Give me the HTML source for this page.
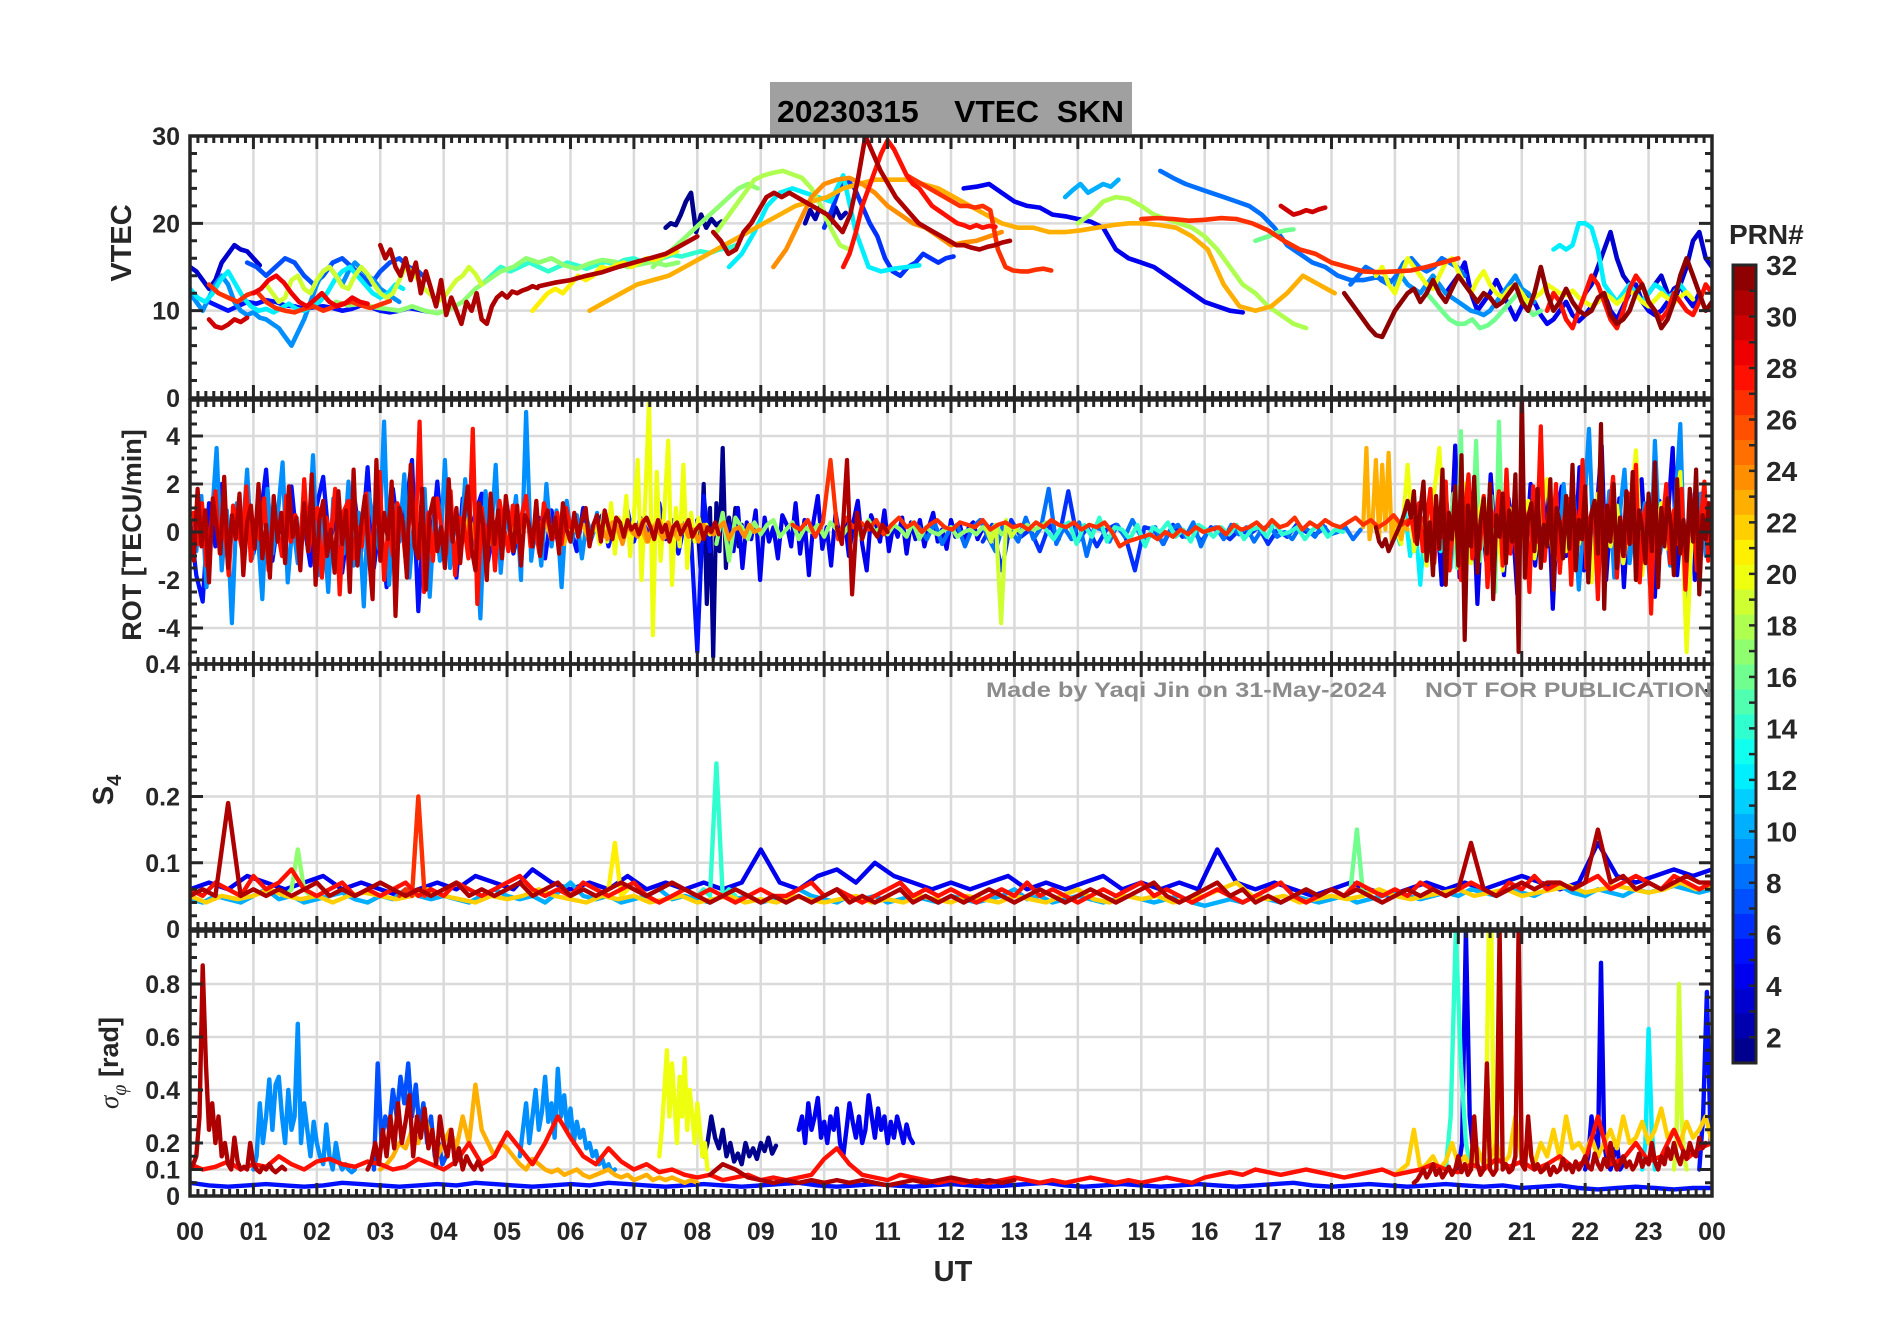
<!DOCTYPE html>
<html><head><meta charset="utf-8"><title>20230315 VTEC SKN</title>
<style>
html,body{margin:0;padding:0;background:#fff;}
svg{display:block;font-family:"Liberation Sans",Arial,sans-serif;}
.tk{font-weight:bold;font-size:25px;fill:#262626;}
.ax{font-weight:bold;fill:#262626;}
</style></head>
<body>
<svg id="chart" width="1902" height="1330" viewBox="0 0 1902 1330" xmlns="http://www.w3.org/2000/svg">
<rect x="0" y="0" width="1902" height="1330" fill="#fff"/>
<defs>
<clipPath id="c0"><rect x="190" y="136" width="1522" height="262"/></clipPath>
<clipPath id="c1"><rect x="190" y="400" width="1522" height="264"/></clipPath>
<clipPath id="c2"><rect x="190" y="664" width="1522" height="265"/></clipPath>
<clipPath id="c3"><rect x="190" y="931" width="1522" height="265"/></clipPath>
</defs>
<g id="grid"></g>
<g id="marks"></g>
<g id="frames"></g>
<g>
<rect x="770" y="82" width="362" height="52" fill="#a0a0a0"/>
<text x="777" y="122" font-size="31" font-weight="bold" fill="#000" textLength="347" lengthAdjust="spacingAndGlyphs" xml:space="preserve">20230315    VTEC  SKN</text>
</g>
<text class="ax" font-size="29" transform="translate(131,243) rotate(-90)" text-anchor="middle">VTEC</text>
<text class="ax" font-size="27" transform="translate(141,535) rotate(-90)" text-anchor="middle">ROT [TECU/min]</text>
<text class="ax" font-size="29" transform="translate(113,790) rotate(-90)" text-anchor="middle">S<tspan font-size="20" dy="8">4</tspan></text>
<text class="ax" font-size="27" transform="translate(118,1063) rotate(-90)" text-anchor="middle"><tspan font-family="Liberation Serif" font-style="italic" font-weight="normal">σ</tspan><tspan font-size="20" dy="8" font-family="Liberation Serif" font-style="italic" font-weight="normal">φ</tspan><tspan dy="-8"> [rad]</tspan></text>
<text class="ax" font-size="29" x="953" y="1281" text-anchor="middle">UT</text>
<g font-weight="bold" font-size="21" fill="#8c8c8c">
<text x="986" y="697" textLength="400" lengthAdjust="spacingAndGlyphs">Made by Yaqi Jin on 31-May-2024</text>
<text x="1425" y="697" textLength="287" lengthAdjust="spacingAndGlyphs">NOT FOR PUBLICATION</text>
</g>
<text class="ax" font-size="28" x="1729" y="244" fill="#000">PRN#</text>
<g id="cbar"></g>
</svg>
<script>
// ---------- data ----------
const hourLabels = ["00","01","02","03","04","05","06","07","08","09","10","11","12","13","14","15","16","17","18","19","20","21","22","23","00"];
const vtecTicks = [0,10,20,30];
const rotTicks = [-4,-2,0,2,4];
const s4Ticks = [0,0.1,0.2,0.4];
const s4TickLabels = ["0","0.1","0.2","0.4"];
const sigTicks = [0,0.1,0.2,0.4,0.6,0.8];
const cbarTicks = [2,4,6,8,10,12,14,16,18,20,22,24,26,28,30,32];

// VTEC series: PRN, start hour, step (h), values (TECU)
const vtecPrn = [3,5,9,7,12,27,30,29,19,17,31,31,31,28,27,18,17,23,24,12,10,6,2,1,4,8,30,16,18,27,20,4,32,28,3,12,16,9,8,14,21];
const vtecStart = [0,0.3,0,0.9,0,0.3,0.3,1.0,1.2,2.3,3.0,5.5,8.25,10.3,11.3,8.3,7.3,6.3,9.2,8.5,13.8,10.0,9.7,7.5,12.2,15.3,17.2,16.8,14.0,15.0,18.7,19.8,18.2,21.4,22.0,21.5,19.5,19.0,18.3,4.6,5.4];
const vtecStep = [0.1,0.15,0.1,0.15,0.12,0.15,0.1,0.12,0.1,0.2,0.08,0.25,0.12,0.1,0.12,0.15,0.15,0.25,0.2,0.2,0.12,0.12,0.08,0.08,0.2,0.2,0.1,0.12,0.2,0.25,0.1,0.1,0.1,0.1,0.1,0.1,0.12,0.1,0.12,0.15,0.12];
const vtecVals = [
[15,14.5,13.5,12.5,13.5,15.5,16.5,17.5,17,16.8,16,15.2],
[11,10.5,10,10.5,11,10.8,11.2,11,10.6,10.5,10.2,10.4,10.5,10.3,10,10.2,10.6,10.4,10,9.8,10,10.3,10.1,9.9],
[12,11,10,11.5,13,14,13,11,10,9.5,9.8,9.2,9,8.5,8,7,6,7.5,9,11,13,14.5,15,14,13,14.5,15.5,14.8,14,13.5,12.5,12,11.5,11],
[15.5,15,14,15,16,15.5,14,13,14,15.5,16,15,14,13,14.5,15.5,16,15,14.5,13.5],
[12.5,11.5,11,12,13.5,14.5,13,11.5,10.5,10,10.2,9.8,10.3,10.8,10.2,10,10.5,11,12,13.5,14.5,15,14,13,12,11.5,12,13,12.5],
[13,12,11.5,11,11.8,12.2,11,10.3,10,9.8,10.2,10.5,10,10.4,10.8,11,10.6,10.3,10.7,11.1],
[9,8.2,8,8.4,9,8.7,9.2],
[12,12.5,13.5,14,13.2,12,11,10.5,11.2,12,11,10.5,10.8,11.5,11,10.8],
[13,12,11,11.5,13.5,14,12.5,12,13.5,14.5,15,14,12.8,12.5,14,15,14.2,13,12,11.5,12,13.5,15,14.5,13.5,12.5,11.8,11,11.5,12.5,13.5,14,15,14.2,13],
[11,10.6,10.8,10.4,10.2,10,10.5,10,9.7,10.2,11,12.5,13.5,14.5,15,16,15.5,16,15.2,14.8,15.4,15.8,15.6,15,15.3,15.6,15.2,15.5],
[17.5,16,17,15,14,16,13.5,15.5,12,14.5,12.5,10.5,13.5,9.5,11.5,10,8.5,11,10,12,9,8.5,10.5,11.5,12,11.5,12.2,12,12.3,12.5,12.8,12.6],
[12.8,13.2,13.5,14,14.4,15,15.5,16,16.5,17.5,18.5],
[19,18,16.5,17,19,20,21.5,23,23.5,23,23.5,23,22.5,22,21.5,21,20,19,21,25,30,28,26,24.5,23,22,21,20,19.5,19,18.5,18,17.5,17.5,17.2,17,17.3,17.5,17.8,18],
[15,16.5,19,22,24,26,28,29.5,28.5,27,25.5,24.5,24,23,22,21.5,21,20.5,20,19.8,19.5,19.8,19.5,19.7,19.6],
[25.5,25,24.5,24,23.5,23,22.5,22,22,21.8,22,21.5,17,15,14.6,14.5,14.5,14.7,14.8,14.6],
[19,20.5,22,23.5,25,25.5,25.8,26,25.6,25.2,24,22,19.5,17.5,17],
[15,16,17,18,19,20,21,22,23,24,24.5,24],
[10,11,12,13,13.5,14,15,16,17,18,19,20,21,22,22.5,23,24,24.5,25,25,25,24.5,24,23,22,21,20,19.5,19.5,19,19,19.2,19.5,19.8,20,20,19.8,19.5,18.5,17,13,10.5,10,10.5,12,14,13,12],
[15,17,20,23,24.5,25,25.2,24.5,23.5,22,21,20,19.5,18.5,17.5,17.8,18,18.5,19],
[15,16.5,19,22,23.5,24,23.5,23,22.5,25.5,19,15,14.5,14.8,15,15.2],
[23,23.8,24.5,23.5,24,24.5,24.2,25],
[19.5,21.5,24,25,24,22,20,18.5,16,14.5,14,15,15.5,16.5,16,15.5,16,16.2],
[20,21.5,20.5,22,21,20,21.8,20.6,21.2],
[19.5,20,19.8,21,22.5,23.5,19,21,19.5,20.5,19.8,20.2],
[24,24.2,24.5,23.5,22.5,22,21.8,21,20.8,20.5,20.2,19.5,17,16,15.5,15,14,13,12,11,10.5,10,9.8],
[26,25.2,24.5,24,23.5,23,22.5,22,21,19.5,17.5,16.5,15.5,15,14,13.5,13.5,13.8,13.5],
[22,21.5,21,21.2,21.5,21.3,21.6,21.8],
[18,18.3,18.6,19,19.2,19.3],
[20,21,22.5,23,22.8,22,21,20.5,20,19.5,18.5,17,15,13,12,10.5,9.5,8.5,8],
[20.5,20.6,20.5,20.3,20.4,20.6,20.5,20,19.2,18,17,16.5,15.5,15,14.5,14.4,14.5,14.6,15,15.5,16],
[14,15,13,12,14,16,15,14,13,12.5,14,15.5,16,14.5,13,12,13.5,14.5,13,12,11.5,12.5,13,12,11,11.5,12,13,12.5,12,11.8,12.3,11.5,11,10.5,11,12,11.5,10.8,11.4,12.2,11.8,11,10.5,11.2,12,11.4,10.9,11.6,12.1,11.3],
[12,13,14,15.5,12,10,11,12,13.5,12,10.5,9,10.5,12,11,9.5,8.5,9,10,11,9.5,8.8,9.5,10.5,11,12,10,9,10.5,12,13,11,10,9.5,10,11,12.5,13,11.5,10.5,12],
[12,11,10,9,8,7.2,7,8.5,10,11,12,12.5,11,12,13.5,12,11,12.5,14,13,12,11,12,11.5,10.5,11,12,13,11,10,12,15,12,10,11,12.5,11,10,9.5,10,11.5,12,9.5,8.5,9,10,12,13,11,10,8,9,11,14,16,14,12,10,11,12,13,12,11],
[10,12,11,9,8,10,12,14,13,11,9,8,10,12.5,14,13,11,10,9,10,12,11,10,9.5,11,13,12,10.5,9,10,11.5,12,10],
[12,13,15,17,19,16,14,13,12,11,12,13,14,12,11,13,15,18,19,16,15,14,13,12,13.5,15,16,14.5,13,14,16,17],
[17,17.5,17,17.5,20,20,19.5,17,13,12,11,12,13,12,11,12,13,12.5,11.5,12,13,12],
[12,11,10,9,8.5,8.5,9,8,8.3,9,10,11,12,10.5,9.5,10],
[13,14,13,12.5,12,13,14,13,12,11.5,11,10.5,10,9.8,9.5,10,11,12,13,14,12.5,12,11],
[13,14,15,14.5,13.5,13,14,15.5,16,15,14.5,15,16,15.5,15,14],
[13,14,15,14.5,15,15.5,15,14.5,15,15.5,15.2,14.8,15.2,15.6,15.3,15.8,16,15.5,15.8,16,16.4,16.2,16.5,16.8,16.6,17,17.2,17.6],
[10,11,12,12.5,12,13,14,13.5,14,15,14.8,15.2,15.5,15,15.5,16,15.8,16.2,16.5,16.8]
];

// ROT series: PRN, start hour, step (h), values (TECU/min)
const rotPrn = [24,9,5,23,20,28,31,4,8,27,31,6,19,32,28,4,16,20,23,12,9,17,14,1];
const rotStart = [6.5,0.1,0,4.2,6.4,0.05,0,8.5,11.5,9.5,10.2,12.5,12.55,18.7,19.2,19.6,19.8,19.0,18.5,19.0,21.5,8.3,13.5,8.0];
const rotStep = [0.08,0.08,0.1,0.1,0.06,0.07,0.06,0.07,0.12,0.12,0.08,0.15,0.08,0.05,0.06,0.07,0.06,0.1,0.05,0.08,0.08,0.1,0.12,0.05];
const rotVals = [
[0.1,-0.3,0.4,0.2,-0.5,0.3,0.0,-0.2,0.5,-0.4,0.2,0.1,-0.3,0.4,-0.1,0.2,0.3,-0.2,0.1,-0.4,0.3,0.0,-0.1,0.2,0.4,-0.3,0.1,0.2,-0.2,0.3,0.0,0.1],
[-0.8,1.5,-2.3,0.4,3.5,-1.6,0.9,-3.8,1.2,-0.5,2.6,-1.1,0.3,-2.8,1.8,-0.9,0.6,2.9,-2.1,0.4,-1.3,1.0,-0.6,3.2,-1.8,0.5,-2.5,1.4,0.2,-0.9,2.1,-1.4,0.8,-3.1,1.6,0.3,-0.7,4.6,-2.2,1.1,-0.4,2.4,-1.9,0.7,-0.2,1.8,-2.7,0.9,-1.2,3.0,-1.5,0.6,-0.8,2.2,-1.0,0.4,-3.6,1.7,-0.5,2.8,-1.7,0.8,-0.3,1.5,-2.0,5.0,-1.2,0.6,-1.4,2.0,-0.6,0.9,-2.3,1.3,-0.4,0.7,-1.1,0.5,-0.2,0.8],
[0.5,-1.8,-2.9,1.2,-0.6,2.0,-1.1,0.8,-0.3,1.5,-0.9,0.4,2.6,-1.2,0.7,-0.5,1.9,-0.8,0.3,-1.4,1.1,2.3,-0.6,0.9,-1.7,0.4,1.3,-0.8,2.7,-1.5,0.6,-2.3,1.8,-0.4,0.9,3.0,-3.3,1.2,-0.7,2.1,-1.0,0.5,-1.9,1.4,-0.3,0.8,1.6,-1.2,0.4,-0.6,1.1,-0.9,0.3,1.5,-0.7,0.6,-1.1,0.9,-0.4,0.5,0.2,-0.8,1.0,-0.5,0.3,0.7,-0.6,0.4,-0.2,0.9,-0.4,0.6,0.1,-0.5,1.2,-0.3,0.5,-0.9,0.4,-0.2,-5.0,1.5,-0.8],
[0.2,-0.4,0.6,-0.3,0.5,-0.6,0.3,0.1,-0.5,0.4,-0.2,0.6,-0.4,0.3,0.5,-0.3,0.2,-0.5,0.4,0.0,0.3,-0.4,0.5,-0.2,0.1,0.4,-0.3,0.2,-0.1,0.3,-0.4,0.2,0.5,-0.2,0.1,-0.3,0.2,0.0],
[0.3,-0.5,0.8,-0.4,1.2,-0.9,0.6,-0.3,1.5,-1.0,0.7,3.0,-2.0,1.4,5.5,-4.3,2.5,-1.2,0.9,3.8,-2.2,1.0,-0.6,2.8,-1.5,0.8,-0.4,0.6,-0.2,0.3,-0.1,0.2],
[0.8,-0.5,1.2,-1.4,0.3,1.7,-0.9,0.6,-1.8,1.1,0.2,-0.7,1.9,-1.2,0.5,-0.3,1.4,-1.6,0.9,0.1,-1.0,1.5,-0.4,0.7,-1.3,2.2,-0.8,0.4,1.0,-1.9,0.6,-0.2,1.8,-2.6,0.9,1.3,-1.1,0.2,-0.6,1.6,-1.4,0.8,2.5,-2.0,0.3,-1.0,1.2,0.5,-1.5,1.9,-0.7,4.6,-2.5,0.8,-1.2,1.4,0.1,-0.9,1.7,-1.8,0.6,0.3,-1.1,4.3,-3.0,1.0,-0.5,0.9,-1.6,1.3,0.2,-0.8,1.1,-0.4,0.7,1.5,-0.6,0.3,-0.9,1.2,0.4,-0.3,0.8,-0.5,1.0,0.2],
[0.5,-1.2,1.8,-0.6,0.9,-2.1,1.4,0.2,-0.9,2.3,-1.5,0.7,-0.3,1.6,-1.8,0.4,1.1,-0.7,2.0,-1.1,0.3,-1.9,1.5,-0.4,0.8,-1.3,1.9,-0.2,0.6,-1.6,1.2,-0.8,2.4,-2.2,0.5,1.3,-1.0,0.1,-1.7,1.7,-0.5,0.9,-2.5,2.6,-1.4,0.3,1.5,-0.9,-2.8,3.0,-1.2,0.8,-0.3,2.1,-3.5,1.0,0.4,-1.9,2.8,-0.6,-1.1,1.8,-2.4,0.7,1.4,-0.8,0.2,-1.5,2.2,-0.4,1.0,-1.3,0.6,1.9,-0.7,-1.6,1.2,0.3,-2.0,1.6,-0.5,0.9,-1.1,1.5,0.2,-0.8,1.1,-1.4,0.7,0.4,-0.6,1.3,-1.0,0.5,0.9,-0.3,0.6,-0.9,1.2,0.1,-0.4,0.8,-0.2,0.5,1.0,-0.6,0.3,0.7,-0.4,0.9,0.2,-0.3,0.6,0.4,-0.2,0.5,0.1,0.3,-0.1,0.4,0.6,0.2,-0.3,0.5,0.0,0.3,-0.4,0.2,0.4,-0.1,0.2,0.5,-0.2,0.1,0.3,-0.3,0.2,0.0,0.4,-0.1],
[0.3,-0.8,1.0,-1.5,0.4,-0.3,0.9,-2.0,0.6,-0.4,0.2,-1.1,0.7,0.3,-0.6,1.2,-0.9,0.5,-1.8,0.4,1.5,-0.7,0.2,-1.4,0.8,-0.3,0.6,-1.0,0.4,1.3,-0.5,-1.6,0.7,0.2,-0.4,0.9,-0.8,0.3,-0.2,0.6,-0.9,0.4,-0.3,0.5,-0.6,0.2,0.8,-0.4,0.1,-0.7,0.5,-0.2,0.3,-0.5,0.2,0.4,-0.3,0.1],
[0.2,-0.3,0.4,-0.5,0.1,0.3,-0.6,0.2,0.5,-0.2,-0.8,0.3,0.1,-0.4,0.6,-0.3,0.2,1.8,-0.5,0.2,-0.3,0.4,-1.0,0.2,0.1,-0.4,0.3,-0.2,0.5,-0.1,-0.3,0.2,-0.5,0.1,0.3,-0.2,0.4,-0.6,0.1,0.2,-0.3,0.3,-0.1,0.2,-0.4,0.1,0.3,-0.2,0.0,-0.3,0.2,0.1,-0.2,0.3,-0.1,0.0,0.2,-0.3,0.1],
[0.3,0.1,0.5,-0.2,0.4,3.0,-0.3,0.6,0.2,0.4,0.1,0.5,-0.1,0.3,0.6,0.2,0.4,0.0,0.3,0.5,0.2,0.1,0.4,0.3,0.2,0.5,0.1,0.3,0.4,0.2,0.3,0.1,0.4,0.2,0.5,0.3,0.2,0.4,0.1,0.3,0.2,0.4,0.0,-0.6,-0.4,-0.3,-0.2,-0.1,-0.3,0.0,-0.2,0.1,-0.1,0.2,0.0,0.1,0.2,-0.1,0.3,0.1,0.2,0.4,0.1,0.5,0.2,0.3,0.6,0.1,0.4,0.2,0.5,0.3,0.2,0.4,0.6,0.3,0.5,0.2,0.4,0.7,0.3,0.5,0.2,0.6],
[0.2,-0.5,3.0,-2.6,0.8,-0.3,0.4,0.1,-0.2,0.3,0.0],
[-0.4,0.3,-1.6,0.5,-0.2,0.1,-0.8,0.3,-0.3,1.7,-0.4,0.2,-0.6,0.1,0.3,-0.2,-1.6,0.2,0.1,-0.5,0.3,-0.2,0.1,-0.4,0.2,0.0,-0.3,0.1,-0.1,0.2,-0.5,0.1,-0.2,0.3,0.0,-0.1,0.2],
[0.2,-0.4,0.3,-3.8,0.5,-0.2,0.1],
[0.2,-0.4,-0.6,-0.3,-0.8,-0.5,-0.2,0.1,0.4,0.8,1.3,0.6,1.7,-0.5,0.9,2.1,-1.2,0.4,-1.8,1.5,-0.7,2.6,-2.2,0.8,-0.3,1.9,-1.4,3.2,-4.5,1.1,-0.6,2.3,-1.7,0.5,1.4,-0.9,2.0,-2.8,0.7,-0.2,1.6,-1.3,0.9,-0.4,2.4,-5.0,6.0,-1.9,0.6,1.2,-0.8,1.8,-1.5,0.3,-0.6,2.2,-2.4,1.0,0.4,-1.1,1.5,-0.7,2.8,-1.6,0.5,-0.3,1.9,-2.1,0.8,1.3,-0.9,4.5,-3.2,1.1,-0.4,2.0,-1.5,0.6,-1.0,1.7,-0.5,2.5,-2.0,0.9,0.2,-1.3,1.6,-0.8,2.9,-2.3,1.0,-0.6,1.4,0.3,-1.8,2.2,-0.9,0.5,-1.2,1.8,-0.4,2.6,-2.6,0.7,-0.3,1.2,-1.0],
[0.3,0.6,-0.4,1.2,-0.8,0.5,1.8,-1.3,0.7,-0.2,2.1,-1.6,0.4,1.0,-2.0,0.8,2.4,-1.1,0.3,-0.7,1.5,-2.3,0.9,0.2,1.7,-1.4,2.6,-0.9,0.5,-1.8,1.3,0.6,-2.5,1.9,-0.4,4.4,-1.2,0.8,-0.5,2.0,-1.7,0.4,1.4,-2.2,0.9,-0.3,3.0,-1.5,0.6,1.1,-2.8,1.7,-0.6,0.8,2.3,-1.9,0.5,-1.0,1.6,-0.4,2.8,-2.1,0.7,1.2,-3.4,1.5,-0.8,0.3,2.0,-1.3,0.9,-0.5,1.8,-2.4,0.6,1.3,-1.6,0.4,2.1,-1.2],
[-1.0,0.5,-2.2,1.3,-0.6,3.6,-1.9,0.8,-0.3,1.6,-3.0,0.7,-1.2,2.4,-0.5,0.9,-1.8,1.4,0.2,-2.6,1.1,-0.7,2.0,-1.4,0.6,-0.2,1.5,-3.2,0.8,1.9,-1.0,0.4,-0.8,2.7,-1.6,0.5,-1.3,1.2,3.6,-2.0,0.6,-0.9,1.4,-2.3,0.7,0.3,-1.5,2.2,-0.6,1.0,-2.7,1.3,-0.4,0.8,3.5,-1.8,0.5,-1.1,1.6,-2.0,0.9,-0.3,1.2],
[0.5,-0.8,1.6,-1.5,4.2,-2.0,0.9,-0.4,3.8,-1.2,0.6,-0.9,1.5,-2.5,4.6,-1.0,0.8,-0.3,1.2,-0.5],
[0.3,-0.5,2.8,-0.8,0.6,-1.4,1.2,3.5,-1.0,0.4,-0.7,2.0,-1.3,0.5,1.5,-0.9,0.2,-1.6,1.0,0.6,-0.4,1.3,-1.1,0.7,2.2,-1.5,0.3,-0.8,1.4,-0.5,0.9,-2.1,1.6,0.2,-0.6,1.1,-1.3,0.5,3.4,-1.8,0.8,-0.4,1.2,-0.7,0.3,2.5,-5.0,1.0,-0.6,0.5],
[0.2,3.5,-0.3,0.5,3.0,-0.2,2.8,0.1,3.3,-0.4,0.6,0.2,-0.3,0.4,0.1],
[0.3,-0.5,0.8,-1.0,0.4,-2.2,0.6,-0.3,1.2,-0.8,0.5,-1.5,0.9,-0.4,0.2,-0.7,1.4,-0.6,0.3],
[0.4,-1.2,2.0,-0.6,1.5,-2.4,0.8,4.3,-1.0,0.3,-0.8,1.7,-1.9,0.6,2.6,-1.3,0.4,-0.5,1.2,-2.2,3.8,-0.9,0.5,-1.4,1.0,4.5,-2.8,0.7,-0.3,1.6,-1.0,0.4],
[-0.5,0.8,-1.2,0.6,0.2,-0.3,0.4,-0.1,0.3,0.5,-0.2,0.1,0.4,-0.3,0.2,0.0,0.3,-0.2,0.4,0.1,-0.1,0.3,0.2,-0.3,0.5,0.0,0.2,-0.1,0.3,0.1,-0.2,0.4,-0.3,0.2,0.0,-0.1,0.1,0.2,-0.2,0.0,0.1,-0.1,0.2,0.0,0.3,-0.1,0.1,0.2,0.0,0.3,0.1,0.2,0.4],
[0.1,-0.3,0.2,0.4,-0.5,0.3,-0.2,0.6,-0.4,0.2,0.1,-0.3,0.3,-0.6,0.2,0.0,0.4,-0.2,0.1,-0.4,0.3,0.1,-0.2,0.2,-0.1,0.3,-0.3,0.1,0.2,-0.2,0.4,-0.1,0.0,0.2,-0.3,0.1,0.3,-0.2,0.1,0.0],
[0.5,-1.5,2.0,-3.0,1.0,-5.2,1.2,-0.8,3.5,-1.5,0.6,-0.4,1.0,-0.6,0.3]
];

// S4 series: PRN, start hour, step (h), values
const s4Prn = [10,22,4,17,14,27,21,16,28,31];
const s4Start = [0,0,0,1.5,8.0,3.3,6.5,18.2,0,0];
const s4Step = [0.2,0.25,0.3,0.1,0.1,0.1,0.1,0.1,0.2,0.2];
const s4Vals = [
[.045,.04,.05,.045,.04,.05,.06,.045,.05,.04,.045,.05,.055,.045,.04,.05,.045,.06,.05,.045,.05,.045,.04,.05,.06,.05,.045,.05,.04,.055,.07,.05,.045,.05,.04,.045,.05,.06,.045,.05,.045,.04,.05,.045,.05,.04,.045,.05,.06,.05,.045,.04,.05,.045,.05,.04,.045,.05,.045,.04,.05,.045,.04,.045,.05,.06,.045,.05,.04,.045,.05,.045,.04,.045,.05,.045,.04,.045,.05,.04,.035,.04,.045,.04,.05,.045,.04,.05,.045,.04,.045,.05,.04,.045,.05,.055,.05,.045,.05,.055,.05,.06,.055,.05,.06,.055,.05,.06,.065,.055,.05,.06,.055,.05,.06,.055,.06,.065,.06,.055,.06],
[.05,.04,.05,.045,.05,.06,.05,.045,.05,.04,.05,.055,.05,.045,.05,.06,.05,.045,.04,.05,.045,.05,.06,.05,.045,.04,.05,.045,.05,.04,.045,.05,.04,.045,.05,.04,.045,.04,.05,.045,.04,.045,.05,.04,.045,.04,.05,.045,.04,.05,.045,.04,.05,.045,.04,.05,.06,.045,.04,.05,.045,.05,.04,.045,.05,.06,.07,.05,.045,.05,.04,.045,.05,.045,.05,.06,.05,.045,.05,.055,.06,.05,.055,.06,.05,.055,.06,.065,.055,.06,.065,.06,.055,.06,.07,.06,.065],
[.06,.07,.06,.08,.07,.06,.07,.08,.06,.07,.06,.05,.06,.07,.06,.08,.07,.06,.09,.07,.06,.07,.06,.08,.06,.07,.06,.07,.06,.07,.12,.07,.06,.08,.09,.07,.10,.08,.07,.06,.07,.06,.07,.08,.06,.07,.06,.07,.08,.06,.07,.06,.07,.06,.12,.07,.06,.07,.06,.05,.06,.07,.06,.05,.06,.07,.06,.07,.06,.07,.08,.07,.06,.07,.13,.08,.07,.08,.09,.08,.09],
[.05,.06,.12,.06,.05],
[.05,.06,.05,.25,.05,.06,.05],
[.05,.06,.05,.20,.05,.06],
[.05,.06,.13,.05,.06],
[.05,.06,.15,.05,.06],
[.06,.05,.07,.06,.05,.08,.06,.07,.09,.06,.05,.06,.07,.05,.06,.05,.06,.07,.05,.06,.05,.07,.06,.05,.06,.07,.08,.06,.05,.06,.05,.07,.06,.05,.06,.07,.05,.04,.05,.06,.05,.06,.05,.04,.05,.06,.05,.05,.06,.07,.05,.06,.05,.04,.05,.06,.07,.05,.06,.05,.06,.05,.04,.05,.06,.05,.07,.05,.06,.05,.04,.05,.06,.05,.06,.07,.05,.06,.05,.04,.05,.06,.05,.04,.05,.06,.07,.05,.04,.05,.06,.05,.07,.06,.05,.06,.05,.07,.06,.05,.06,.07,.06,.05,.07,.06,.08,.06,.07,.06,.07,.08,.06,.07,.08,.07,.06,.08,.07,.06,.07],
[.05,.06,.05,.19,.05,.06,.05,.06,.05,.06,.07,.05,.06,.05,.06,.07,.06,.05,.06,.05,.06,.07,.05,.06,.05,.06,.07,.05,.06,.07,.05,.06,.05,.06,.07,.06,.05,.06,.07,.06,.05,.04,.05,.06,.05,.04,.05,.04,.05,.04,.05,.06,.04,.05,.04,.05,.06,.04,.05,.04,.05,.04,.05,.06,.05,.04,.05,.06,.05,.04,.05,.06,.05,.04,.05,.06,.07,.05,.04,.05,.06,.07,.05,.06,.04,.05,.04,.05,.06,.05,.06,.05,.06,.05,.04,.05,.06,.05,.06,.05,.06,.13,.06,.05,.06,.07,.06,.07,.07,.06,.07,.15,.07,.08,.06,.07,.06,.07,.08,.07,.07]
];

// sigma-phi series: PRN, start hour, step (h), values (rad)
const sigPrn = [5,9,9,7,1,4,4,12,14,4,5,20,20,19,23,22,28,31,31,31,31];
const sigStart = [0,1.0,5.2,2.9,8.1,9.6,22.0,22.9,19.8,20.0,23.8,7.4,20.4,23.4,3.0,19.0,0,0,2.8,8.2,19.3];
const sigStep = [0.3,0.05,0.05,0.06,0.06,0.05,0.05,0.05,0.08,0.06,0.06,0.04,0.04,0.04,0.1,0.1,0.2,0.05,0.06,0.2,0.05];
const sigVals = [
[.05,.04,.035,.04,.045,.04,.035,.04,.05,.045,.04,.035,.04,.045,.04,.05,.045,.04,.035,.04,.045,.04,.05,.045,.04,.035,.04,.045,.04,.035,.04,.045,.05,.04,.035,.04,.045,.04,.035,.04,.045,.04,.035,.04,.045,.05,.04,.035,.04,.045,.04,.035,.04,.045,.04,.035,.04,.045,.05,.04,.035,.04,.045,.04,.035,.04,.045,.04,.035,.04,.03,.035,.04,.03,.025,.03,.035,.03,.025,.03,.03],
[.1,.15,.35,.2,.3,.44,.25,.42,.45,.3,.2,.4,.25,.3,.65,.2,.35,.25,.15,.28,.2,.15,.12,.27,.15,.1,.2,.13,.1,.12,.1,.09,.1],
[.15,.25,.35,.2,.3,.4,.25,.32,.45,.28,.35,.22,.48,.3,.38,.25,.33,.2,.28,.22,.25,.18,.2,.15,.17,.12,.14,.1,.12,.09,.1],
[.1,.5,.2,.3,.25,.4,.3,.45,.35,.5,.3,.42,.25,.35,.2,.3,.15,.2,.12,.15],
[.15,.2,.3,.22,.18,.25,.15,.2,.13,.16,.12,.2,.15,.18,.14,.2,.17,.22,.16,.19],
[.25,.3,.2,.35,.25,.3,.37,.22,.28,.2,.3,.25,.33,.2,.15,.25,.35,.28,.22,.3,.2,.25,.38,.3,.22,.33,.25,.3,.2,.28,.22,.3,.25,.2,.27,.22,.2],
[.1,.15,.3,.2,.15,.88,.2,.12,.1,.15,.2,.1,.12],
[.1,.2,.63,.25,.1],
[.1,.3,1.0,.5,.2,.1],
[.1,.2,1.0,.3,.15],
[.1,.3,.77,.2],
[.15,.25,.4,.55,.3,.5,.35,.2,.45,.3,.52,.25,.4,.3,.2,.35,.25,.15,.2,.1],
[.1,.3,1.0,1.0,.2,.1],
[.1,.2,.8,.3,.15,.1],
[.1,.12,.15,.2,.18,.25,.2,.3,.22,.15,.2,.25,.18,.3,.2,.42,.25,.2,.15,.2,.18,.15,.12,.1,.14,.12,.1,.09,.1,.08,.09,.1,.08,.07,.08,.09,.1,.08,.07,.08,.06,.07,.08,.06,.07,.06,.07,.06,.05,.06,.05],
[.08,.1,.12,.25,.1,.12,.15,.1,.13,.2,.12,.15,.1,.18,.12,.14,.2,.12,.15,.3,.14,.18,.12,.2,.15,.25,.14,.3,.18,.2,.16,.22,.15,.2,.25,.18,.3,.2,.22,.28,.2,.25,.33,.22,.25,.2,.28,.22,.25,.3,.2],
[.12,.1,.11,.13,.1,.12,.11,.15,.12,.1,.13,.14,.12,.11,.13,.12,.1,.11,.14,.12,.1,.13,.2,.12,.15,.24,.18,.12,.2,.3,.22,.15,.12,.18,.13,.1,.12,.09,.1,.08,.07,.08,.06,.07,.08,.06,.07,.06,.07,.08,.14,.18,.12,.08,.07,.06,.08,.07,.06,.05,.06,.05,.06,.05,.06,.07,.06,.05,.06,.05,.06,.07,.06,.05,.06,.05,.06,.07,.06,.05,.07,.08,.09,.08,.1,.09,.08,.09,.1,.09,.08,.07,.08,.09,.1,.08,.09,.1,.12,.1,.09,.12,.1,.14,.11,.13,.1,.12,.15,.11,.13,.3,.12,.14,.2,.13,.15,.25,.14,.18,.2],
[.1,.12,.15,.3,.87,.5,.25,.35,.2,.3,.15,.2,.12,.1,.22,.13,.1,.11,.1,.2,.12,.1,.09,.11,.1,.12,.1,.09,.1,.11,.1],
[.1,.13,.2,.12,.25,.15,.3,.18,.35,.2,.28,.38,.15,.3,.22,.33,.18,.25,.12,.3,.2,.15,.25,.12,.18,.1,.15,.12,.1,.13,.1],
[.08,.12,.1,.07,.06,.05,.06,.05,.06,.05,.06,.05,.06,.05,.04,.05,.06,.05,.06,.07,.06,.05,.06,.05,.06],
[.05,.06,.08,.1,.07,.09,.12,.08,.1,.07,.09,.11,.08,.1,.15,.09,.12,.08,.1,.3,.12,.08,.1,.5,.1,.08,.1,1.0,.1,.12,.09,.1,.15,1.0,.12,.1,.3,.15,.1,.12,.09,.1,.12,.08,.11,.09,.1,.14,.1,.12,.09,.13,.1,.12,.15,.11,.1,.16,.12,.1,.14,.11,.2,.13,.1,.12,.15,.11,.13,.1,.12,.16,.11,.14,.12,.2,.13,.1,.15,.12,.18,.14,.2,.15,.12,.17,.14,.2,.16,.15,.22,.18,.2]
];

// ---------- layout ----------
const NS = "http://www.w3.org/2000/svg";
const X0 = 190, X1 = 1712;
const panels = [
  {top:136, bot:398, min:0, max:30, clip:"c0", name:"vtec"},
  {top:400, bot:664, min:-5.5, max:5.5, clip:"c1", name:"rot"},
  {top:664, bot:929, min:0, max:0.4, clip:"c2", name:"s4"},
  {top:931, bot:1196, min:0, max:1, clip:"c3", name:"sigma"}
];
function xS(t){ return X0 + t*(X1-X0)/24; }
function yS(p,v){ const P = panels[p]; return P.bot - (v-P.min)/(P.max-P.min)*(P.bot-P.top); }
function jet(k){
  const x = (k-0.5)/32;
  const f = v => Math.round(255*Math.max(0,Math.min(1,v)));
  return "rgb("+f(1.5-Math.abs(4*x-3))+","+f(1.5-Math.abs(4*x-2))+","+f(1.5-Math.abs(4*x-1))+")";
}
function mk(tag, attrs, parent){
  const e = document.createElementNS(NS, tag);
  for (const k in attrs) e.setAttribute(k, attrs[k]);
  parent.appendChild(e);
  return e;
}
const gGrid = document.getElementById("grid");
const gMarks = document.getElementById("marks");
const gFrames = document.getElementById("frames");
const gCbar = document.getElementById("cbar");
const yTickSets = [vtecTicks, rotTicks, s4Ticks, sigTicks];
const minorSteps = [2, 0.5, 0.02, 0.05];

// grid
panels.forEach((P,pi)=>{
  for (let h=1; h<24; h++){
    const l = mk("line",{x1:xS(h),x2:xS(h),y1:P.top,y2:P.bot,stroke:"#dadada","stroke-width":2.5},gGrid);
    
    
  }
  yTickSets[pi].forEach(v=>{
    const y = yS(pi,v);
    if (y<=P.top+1 || y>=P.bot-1) return;
    const l = mk("line",{x1:X0,x2:X1,y1:y,y2:y,stroke:"#dadada","stroke-width":2.5},gGrid);
    
    
  });
});

// series
function drawSet(pi, prns, starts, steps, vals, label, width){
  const order = prns.map((p,i)=>i).sort((a,b)=>prns[a]-prns[b]);
  const g = mk("g",{"clip-path":"url(#"+panels[pi].clip+")"},gMarks);
  
  
  order.forEach(i=>{
    const pts = vals[i].map((v,j)=>xS(starts[i]+j*steps[i]).toFixed(1)+","+yS(pi,v).toFixed(1));
    const pl = mk("polyline",{points:pts.join(" "),fill:"none",stroke:jet(prns[i]),"stroke-width":width,"stroke-linejoin":"round","stroke-linecap":"round"},g);
    
    
  });
}
drawSet(0, vtecPrn, vtecStart, vtecStep, vtecVals, "vtec", 4.6);
drawSet(1, rotPrn, rotStart, rotStep, rotVals, "rot", 4.2);
drawSet(2, s4Prn, s4Start, s4Step, s4Vals, "s4", 4.4);
drawSet(3, sigPrn, sigStart, sigStep, sigVals, "sigma", 4.4);

// frames & ticks
panels.forEach((P,pi)=>{
  const r = mk("rect",{x:X0,y:P.top,width:X1-X0,height:P.bot-P.top,fill:"none",stroke:"#262626","stroke-width":3.5},gFrames);
  
  
  let d = "";
  for (let k=0; k<=24*8; k++){
    const x = xS(k/8);
    const len = (k%8===0) ? 13 : 7;
    d += "M"+x+","+P.top+"v"+len+"M"+x+","+P.bot+"v"+(-len);
  }
  const ticks = yTickSets[pi];
  const st = minorSteps[pi];
  for (let v=P.min; v<=P.max+1e-9; v+=st){
    const y = yS(pi,v);
    const major = ticks.some(t=>Math.abs(t-v)<1e-6);
    const len = major ? 13 : 7;
    d += "M"+X0+","+y+"h"+len+"M"+X1+","+y+"h"+(-len);
  }
  const tp = mk("path",{d:d,stroke:"#262626","stroke-width":3,fill:"none"},gFrames);
  
  
  ticks.forEach((v,ti)=>{
    const lbl = pi===2 ? s4TickLabels[ti] : String(v);
    const t = mk("text",{x:180,y:yS(pi,v)+9,"text-anchor":"end","class":"tk"},gFrames);
    t.textContent = lbl;
    
    
  });
});
hourLabels.forEach((h,i)=>{
  const t = mk("text",{x:xS(i),y:1240,"text-anchor":"middle","class":"tk"},gFrames);
  t.textContent = h;
  
  
});

// colorbar
const CB = {x:1733, w:23, top:265, bot:1063, min:1, max:32};
function cbY(v){ return CB.bot - (v-CB.min)/(CB.max-CB.min)*(CB.bot-CB.top); }
for (let k=1; k<=32; k++){
  const y1 = CB.bot - (k-1)/32*(CB.bot-CB.top), y0 = CB.bot - k/32*(CB.bot-CB.top);
  const r = mk("rect",{x:CB.x,y:y0,width:CB.w,height:y1-y0+0.5,fill:jet(k)},gCbar);
  
  
}
let cd = "";
for (let v=1; v<=32; v++){ const y=cbY(v); cd += "M"+(CB.x+CB.w)+","+y+"h-7"; }
const cbt = mk("path",{d:cd,stroke:"#262626","stroke-width":2.5,fill:"none"},gCbar);


const cbf = mk("rect",{x:CB.x,y:CB.top,width:CB.w,height:CB.bot-CB.top,fill:"none",stroke:"#262626","stroke-width":3},gCbar);


cbarTicks.forEach(v=>{
  const t = mk("text",{x:1766,y:cbY(v)+10,"class":"ax","font-size":"28"},gCbar);
  t.textContent = String(v);
  
  
});
</script>
</body></html>
